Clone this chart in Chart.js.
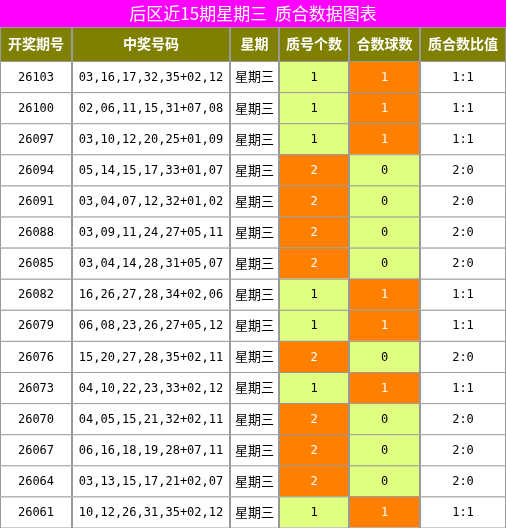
<!DOCTYPE html>
<html><head><meta charset="utf-8">
<script src="https://cdn.jsdelivr.net/npm/chart.js@4"></script>
<style>body{margin:0;background:#fff}#wrap{width:506px;height:528px}</style>
</head><body><div id="wrap"><canvas id="tbl"></canvas></div>
<script>
const title = "后区近15期星期三  质合数据图表";
const headers = ["开奖期号", "中奖号码", "星期", "质号个数", "合数球数", "质合数比值"];
const periods = ["26103","26100","26097","26094","26091","26088","26085","26082","26079","26076","26073","26070","26067","26064","26061"];
const numbers = ["03,16,17,32,35+02,12","02,06,11,15,31+07,08","03,10,12,20,25+01,09","05,14,15,17,33+01,07","03,04,07,12,32+01,02","03,09,11,24,27+05,11","03,04,14,28,31+05,07","16,26,27,28,34+02,06","06,08,23,26,27+05,12","15,20,27,28,35+02,11","04,10,22,23,33+02,12","04,05,15,21,32+02,11","06,16,18,19,28+07,11","03,13,15,17,21+02,07","10,12,26,31,35+02,12"];
const weekday = "星期三";
const primeCount = [1,1,1,2,2,2,2,1,1,2,1,2,2,2,1];
const compCount = [1,1,1,0,0,0,0,1,1,0,1,0,0,0,1];

// layout
const colEdges = [0, 72, 230, 279, 349, 420, 506];
const titleH = 27, headH = 34, rowH = 31.1;

const tablePlugin = {
  id: "tablePlugin",
  afterDraw(chart) {
    const ctx = chart.ctx, sx = chart.scales.x, sy = chart.scales.y;
    const X = v => sx.getPixelForValue(v), Y = v => sy.getPixelForValue(v);
    const cell = (c, y0, h, bg, txt, color, font, dy) => {
      const x0 = X(colEdges[c]), x1 = X(colEdges[c + 1]);
      const t = Y(y0), b = Y(y0 + h);
      ctx.fillStyle = bg; ctx.fillRect(x0, t, x1 - x0, b - t);
      ctx.strokeStyle = "#999"; ctx.lineWidth = 1;
      ctx.strokeRect(x0 + 0.5, t + 0.5, x1 - x0 - 1, b - t);
      ctx.fillStyle = color; ctx.font = font;
      ctx.textAlign = "center"; ctx.textBaseline = "middle";
      ctx.fillText(txt, (x0 + x1) / 2, (t + b) / 2 + (dy || 0));
    };
    ctx.save();
    ctx.fillStyle = "#ff00ff";
    ctx.fillRect(X(0), Y(0), X(506) - X(0), Y(titleH) - Y(0));
    ctx.fillStyle = "#fff"; ctx.font = "17px 'Noto Sans CJK SC'";
    ctx.textAlign = "center"; ctx.textBaseline = "middle";
    ctx.fillText(title, X(253), Y(titleH / 2));
    headers.forEach((h, c) => cell(c, titleH, headH, "#808000", h, "#fff", "bold 14px 'Noto Sans CJK SC'", 0));
    const mono = "12px 'DejaVu Sans Mono'";
    periods.forEach((p, i) => {
      const y0 = titleH + headH + i * rowH;
      const pc = primeCount[i], cc = compCount[i];
      cell(0, y0, rowH, "#fff", p, "#000", mono, 1);
      cell(1, y0, rowH, "#fff", numbers[i], "#000", mono, 1);
      cell(2, y0, rowH, "#fff", weekday, "#000", "13px 'Noto Sans CJK SC'", 0);
      cell(3, y0, rowH, pc === 2 ? "#ff8000" : "#e0ff80", String(pc), pc === 2 ? "#fff" : "#000", mono, 1);
      cell(4, y0, rowH, cc === 1 ? "#ff8000" : "#e0ff80", String(cc), cc === 1 ? "#fff" : "#000", mono, 1);
      cell(5, y0, rowH, "#fff", pc + ":" + cc, "#000", mono, 1);
    });
    ctx.restore();
  }
};

new Chart(document.getElementById("tbl"), {
  type: "scatter",
  data: { datasets: [{ data: [] }] },
  options: {
    animation: false,
    responsive: true,
    maintainAspectRatio: false,
    layout: { padding: 0 },
    scales: {
      x: { type: "linear", min: 0, max: 506, display: false },
      y: { type: "linear", min: 0, max: 528, reverse: true, display: false },
    },
    plugins: { legend: { display: false }, tooltip: { enabled: false } },
  },
  plugins: [tablePlugin],
});
</script></body></html>
